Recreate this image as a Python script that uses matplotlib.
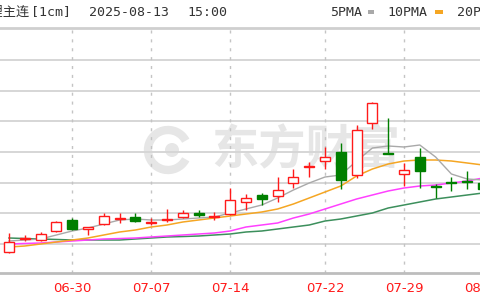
import matplotlib
matplotlib.use("Agg")
import matplotlib.pyplot as plt
from matplotlib.patches import Rectangle, Ellipse, Arc

dates = ["06-24", "06-25", "06-26", "06-27", "06-30", "07-01", "07-02", "07-03", "07-04",
         "07-07", "07-08", "07-09", "07-10", "07-11", "07-14", "07-15", "07-16", "07-17",
         "07-18", "07-21", "07-22", "07-23", "07-24", "07-25", "07-28", "07-29", "07-30",
         "07-31", "08-01", "08-04", "08-05"]

opens = [58800, 60750, 60600, 61950, 63600, 62250, 63000, 63750, 64050, 63200, 63600,
         64050, 64650, 64100, 64500, 66300, 67350, 67200, 69150, 71550, 72450, 73800,
         70350, 78150, 73700, 70500, 73050, 68700, 69350, 69500, 69150]
highs = [61650, 61350, 61800, 63450, 63900, 62550, 64650, 64650, 64650, 63900, 65250,
         65100, 65100, 64800, 68400, 67500, 67650, 70050, 71250, 72300, 74550, 75150,
         77850, 81300, 78900, 72150, 74400, 69000, 70050, 70950, 69600]
lows = [58650, 60450, 60450, 61800, 62150, 61350, 62850, 63150, 63300, 62850, 63300,
        63950, 64050, 63600, 64350, 65100, 65850, 66300, 68400, 70050, 71250, 68250,
        69900, 77250, 73500, 68700, 68400, 66900, 67950, 68250, 67800]
closes = [60300, 60900, 61500, 63300, 62250, 62550, 64200, 63900, 63450, 63300, 63750,
          64650, 64350, 64200, 66600, 66900, 66750, 68100, 70050, 71700, 73050, 69600,
          77100, 81150, 73550, 71100, 70950, 68550, 69200, 69350, 68250]

ma5 = [60450, 60600, 60750, 61350, 61950, 62400, 63000, 63600, 63750, 63600, 63600,
       63750, 63900, 64050, 64650, 65250, 65850, 66900, 68100, 69150, 70050, 70350,
       72450, 74400, 74700, 74550, 74850, 73050, 70500, 69750, 69600]
ma10 = [59550, 59700, 60000, 60300, 60600, 60900, 61350, 61800, 62100, 62550, 62850,
        63300, 63600, 63900, 64200, 64500, 64800, 65250, 66000, 66900, 67800, 68700,
        70200, 71250, 72000, 72450, 72600, 72600, 72450, 72150, 71850]
ma20 = [60000, 60080, 60150, 60300, 60450, 60600, 60750, 60820, 60900, 61050, 61200,
        61350, 61500, 61650, 61950, 62550, 62850, 63150, 63900, 64500, 65250, 66000,
        66750, 67350, 67950, 68400, 68700, 68850, 69150, 69450, 69900]
ma60 = [60900, 60820, 60750, 60680, 60600, 60600, 60600, 60600, 60750, 60900, 61050,
        61120, 61200, 61350, 61500, 61800, 61950, 62250, 62550, 62850, 63450, 63750,
        64200, 64650, 65400, 65850, 66300, 66750, 67050, 67350, 67650]

tick_dates = ["06-30", "07-07", "07-14", "07-22", "07-29", "08-05"]
grid_levels = [60000, 64605, 69210, 73815, 78420, 83025, 87630]

title_name = "碳酸锂主连"
title_period = "[1cm]"
title_date = "2025-08-13"
title_clock = "15:00"
legend_names = ["5PMA", "10PMA", "20PMA"]
watermark = "东方财富"

RED = "#ff1a1a"
GREEN = "#007f00"
C5, C10, C20, C60 = "#a9a9a9", "#f5a623", "#ff40ff", "#3c8f5c"
TXT = "#333333"

W, H = 480, 300
fig = plt.figure(figsize=(4.8, 3.0), dpi=100)
fig.patch.set_facecolor("white")

ax_bottom = (H - 273) / H
ax_top = (H - 28) / H
ax = fig.add_axes([0, ax_bottom, 1, ax_top - ax_bottom])
ax.set_facecolor("white")
ax.set_xlim((0 - 9) / 15.8, (480 - 9) / 15.8)
ax.set_ylim(55650, 92400)

for s in ["left", "right"]:
    ax.spines[s].set_visible(False)
ax.spines["top"].set_color("#cfcfcf")
ax.spines["top"].set_linewidth(2.0)
ax.spines["bottom"].set_color("#bdbdbd")
ax.spines["bottom"].set_linewidth(2.0)
ax.set_xticks([])
ax.set_yticks([])

for g in grid_levels:
    ax.axhline(g, color="#d6d6d6", lw=1.4, zorder=1)

xs = list(range(len(dates)))
for d in tick_dates:
    i = dates.index(d)
    ax.axvline(i, color="#c4c4c4", lw=1.0, ls=(0, (2.2, 4.2)), zorder=1)

# watermark (logo + text), drawn inside the axes beneath the data
wm_col = "#e6e6e6"
ax.add_artist(Arc((168 / W, (H - 150) / H), 40 / W, 40 / H, theta1=40, theta2=320,
                  transform=fig.transFigure, color=wm_col, lw=6, zorder=0.5))
ax.add_artist(Ellipse((172 / W, (H - 150) / H), 14 / W, 14 / H,
                      transform=fig.transFigure, facecolor=wm_col, edgecolor="none",
                      zorder=0.5))
ax.text(306 / W, (H - 150) / H, watermark, fontsize=34, fontweight="bold",
        color=wm_col, ha="center", va="center", family=["Noto Sans CJK SC"],
        transform=fig.transFigure, zorder=0.5)

ax.plot(xs, ma60, color=C60, lw=1.1, zorder=2)
ax.plot(xs, ma20, color=C20, lw=1.1, zorder=2)
ax.plot(xs, ma10, color=C10, lw=1.1, zorder=2)
ax.plot(xs, ma5, color=C5, lw=1.0, zorder=2)

bw = 0.64
for i in xs:
    o, h, l, c = opens[i], highs[i], lows[i], closes[i]
    if c >= o:
        col = RED
        top, bot = c, o
        ax.plot([i, i], [top, h], color=col, lw=1.0, zorder=3, solid_capstyle="butt")
        ax.plot([i, i], [l, bot], color=col, lw=1.0, zorder=3, solid_capstyle="butt")
        ax.add_patch(Rectangle((i - bw / 2, bot), bw, max(top - bot, 1), facecolor="white",
                               edgecolor=col, lw=1.0, zorder=4))
    else:
        col = GREEN
        top, bot = o, c
        ax.plot([i, i], [l, h], color=col, lw=1.0, zorder=3, solid_capstyle="butt")
        ax.add_patch(Rectangle((i - bw / 2, bot), bw, max(top - bot, 1), facecolor=col,
                               edgecolor=col, lw=1.0, zorder=4))

# date labels
for d in tick_dates:
    i = dates.index(d)
    xp = 9 + 15.8 * i
    fig.text(xp / W, (H - 289) / H, d, color=RED, fontsize=9.5, ha="center", va="center",
             family=["DejaVu Sans"])

# header
hy = (H - 12) / H
fig.text(30 / W, hy, title_name, fontsize=9.5, ha="right", va="center",
         color=TXT, family=["Noto Sans CJK SC", "DejaVu Sans"])
fig.text(31 / W, hy, title_period, fontsize=9.5, ha="left", va="center",
         color=TXT, family=["DejaVu Sans Mono"])
fig.text(89 / W, hy, title_date, fontsize=9.5, ha="left", va="center",
         color=TXT, family=["DejaVu Sans Mono"])
fig.text(187 / W, hy, title_clock, fontsize=9.5, ha="left", va="center",
         color=TXT, family=["DejaVu Sans Mono"])

legend_x = [330, 387, 457]
marker_x = [(368, 374), (435, 443), (500, 508)]
mcols = [C5, C10, C20]
for name, lx, (m0, m1), mc in zip(legend_names, legend_x, marker_x, mcols):
    fig.text(lx / W, hy, name, fontsize=9.5, ha="left", va="center",
             color=TXT, family=["DejaVu Sans Mono"])
    fig.patches.append(Rectangle((m0 / W, (H - 14) / H), (m1 - m0) / W, 4 / H,
                                 transform=fig.transFigure, facecolor=mc, edgecolor="none"))

fig.savefig("out.png", dpi=100, facecolor="white")
